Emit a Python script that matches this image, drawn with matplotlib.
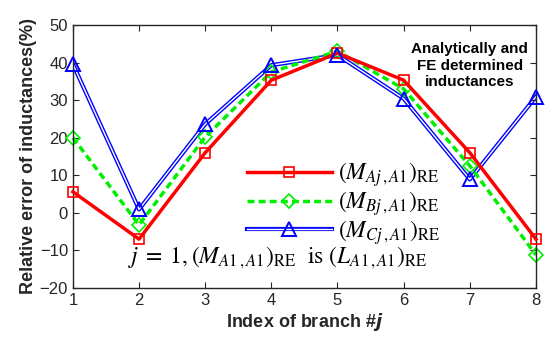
import numpy as np
import matplotlib.pyplot as plt
from matplotlib.lines import Line2D

# branch index and relative errors (%)
branch = [1, 2, 3, 4, 5, 6, 7, 8]
err_A = [5.6, -7.0, 16.0, 35.3, 42.5, 35.3, 16.0, -7.0]
err_B = [20.0, -3.2, 20.2, 37.5, 43.0, 33.0, 12.5, -11.2]
err_C = [39.6, 0.9, 23.6, 39.3, 42.0, 30.4, 8.9, 30.9]

plt.rcParams['font.family'] = ['Liberation Sans', 'DejaVu Sans']
plt.rcParams['mathtext.fontset'] = 'stix'

fig = plt.figure(figsize=(5.48, 3.42), dpi=100)
ax = fig.add_axes([0.133, 0.158, 0.845, 0.769])

red, green, blue = '#ff0000', '#00ee00', '#0000ff'

ax.plot(branch, err_A, color=red, lw=2.5, marker='s', ms=7, mfc='none',
        mec=red, mew=1.2, zorder=3, clip_on=False)
ax.plot(branch, err_B, color=green, lw=2.5, ls=(0, (2, 1.2)), marker='D',
        ms=7, mfc='none', mec=green, mew=1.2, zorder=2, clip_on=False)
# double blue line: thick blue with a thin white core
ax.plot(branch, err_C, color=blue, lw=3.0, zorder=1)
ax.plot(branch, err_C, color='white', lw=1.0, zorder=1)
ax.plot(branch, err_C, ls='none', marker='^', ms=10, mfc='none', mec=blue,
        mew=1.4, zorder=4, clip_on=False)

ax.set_xlim(1, 8)
ax.set_ylim(-20, 50)
ax.set_xticks(branch)
ax.set_yticks(np.arange(-20, 51, 10))
ax.tick_params(direction='in', top=True, right=True, labelsize=12,
               colors='#262626', length=4)
for s in ax.spines.values():
    s.set_color('#262626')
    s.set_linewidth(1.0)

ax.set_xlabel(r'Index of branch #$\mathbfit{j}$', fontsize=13,
              fontweight='bold', color='#262626', labelpad=2,
              math_fontfamily='dejavusans')
ax.set_ylabel('Relative error of inductances(%)', fontsize=13,
              fontweight='bold', color='#262626', labelpad=2)

h_A = Line2D([], [], color=red, lw=2.5, marker='s', ms=7, mfc='none',
             mec=red, mew=1.2)
h_B = Line2D([], [], color=green, lw=2.5, ls=(0, (2, 1.2)), marker='D',
             ms=7, mfc='none', mec=green, mew=1.2)
h_C1 = Line2D([], [], color=blue, lw=3.0)
h_C2 = Line2D([], [], color='white', lw=1.0)
h_C3 = Line2D([], [], ls='none', marker='^', ms=10, mfc='none', mec=blue,
              mew=1.4)
labels = [r'$\left(M_{Aj\,,A1}\right)_{\rm RE}$',
          r'$\left(M_{Bj\,,A1}\right)_{\rm RE}$',
          r'$\left(M_{Cj\,,A1}\right)_{\rm RE}$']
ax.legend([h_A, h_B, (h_C1, h_C2, h_C3)], labels, loc='upper left',
          bbox_to_anchor=(0.355, 0.52), frameon=False, fontsize=17,
          handlelength=3.6, handletextpad=0.25, labelspacing=0.0,
          borderaxespad=0)

ax.text(1.83, -13.3, r'$j\;=\;1,\left(M_{A1\,,A1}\right)_{\rm RE}$  is '
        r'$\left(L_{A1\,,A1}\right)_{\rm RE}$', fontsize=17,
        family='STIXGeneral', va='baseline', ha='left')

ax.text(7.0, 39.2, 'Analytically and\nFE determined\ninductances',
        fontsize=11, fontweight='bold', ha='center', va='center',
        linespacing=1.2)

fig.savefig('out.png', dpi=100)
